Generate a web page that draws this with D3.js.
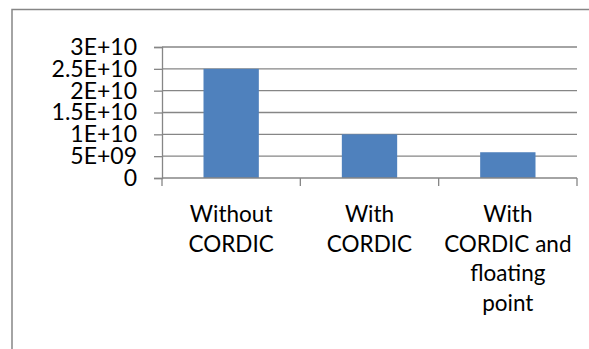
<!DOCTYPE html>
<html>
<head>
<meta charset="utf-8">
<script src="https://cdn.jsdelivr.net/npm/d3@7"></script>
<style>
  html, body { margin: 0; padding: 0; background: #fff; }
  svg { display: block; }
  text { font-family: Lato, "Open Sans", sans-serif; fill: #000; }
</style>
</head>
<body>
<svg id="chart" width="589" height="349"></svg>
<script>
// Runtime comparison of the three implementations
const categories = [
  ["Without", "CORDIC"],
  ["With", "CORDIC"],
  ["With", "CORDIC and", "floating", "point"]
];
const values = [2.5e10, 1.0e10, 5.9e9];
const yTicks = [0, 5e9, 1e10, 1.5e10, 2e10, 2.5e10, 3e10];
const yTickLabels = ["0", "5E+09", "1E+10", "1.5E+10", "2E+10", "2.5E+10", "3E+10"];

const svg = d3.select("#chart");
const W = 589, H = 349;
const plot = { left: 162, right: 577, top: 47, bottom: 178 };
const gridColor = "#868686";

// Outer chart frame
svg.append("rect")
  .attr("x", 12).attr("y", 9.5)
  .attr("width", W + 20).attr("height", H + 20)
  .attr("fill", "none")
  .attr("stroke", gridColor)
  .attr("stroke-width", 1.5);

const x = d3.scaleBand()
  .domain(d3.range(categories.length))
  .range([plot.left, plot.right])
  .paddingInner(0.6)
  .paddingOuter(0.3);

const y = d3.scaleLinear()
  .domain([0, 3e10])
  .range([plot.bottom, plot.top]);

// Horizontal gridlines
svg.append("g")
  .selectAll("line")
  .data(yTicks.filter(d => d > 0))
  .join("line")
  .attr("x1", plot.left).attr("x2", plot.right)
  .attr("y1", d => y(d)).attr("y2", d => y(d))
  .attr("stroke", gridColor)
  .attr("stroke-width", 1.3);

// Bars
svg.append("g")
  .selectAll("rect")
  .data(values)
  .join("rect")
  .attr("x", (d, i) => x(i))
  .attr("width", x.bandwidth())
  .attr("y", d => y(d))
  .attr("height", d => y(0) - y(d))
  .attr("fill", "#4F81BD");

// Y axis
const yAxis = d3.axisLeft(y)
  .tickValues(yTicks)
  .tickFormat((d, i) => yTickLabels[i])
  .tickSize(8)
  .tickPadding(17);

const gy = svg.append("g")
  .attr("transform", `translate(${plot.left},0)`)
  .call(yAxis);
gy.select(".domain").attr("stroke", gridColor).attr("stroke-width", 1.3);
gy.selectAll(".tick line").attr("stroke", gridColor).attr("stroke-width", 1.3);
gy.selectAll(".tick text")
  .attr("font-size", 23)
  .attr("font-family", "Lato, sans-serif")
  .attr("fill", "#000");

// X axis: baseline with tick marks at category boundaries
const boundaries = d3.range(categories.length + 1).map(i => plot.left + i * (plot.right - plot.left) / categories.length);
svg.append("line")
  .attr("x1", plot.left).attr("x2", plot.right)
  .attr("y1", y(0)).attr("y2", y(0))
  .attr("stroke", gridColor).attr("stroke-width", 1.3);
svg.append("g")
  .selectAll("line")
  .data(boundaries)
  .join("line")
  .attr("x1", d => d).attr("x2", d => d)
  .attr("y1", y(0)).attr("y2", y(0) + 8)
  .attr("stroke", gridColor).attr("stroke-width", 1.3);

// Category labels, wrapped onto several lines
const labels = svg.append("g")
  .selectAll("text")
  .data(categories)
  .join("text")
  .attr("text-anchor", "middle")
  .attr("font-size", 22.5)
  .attr("x", (d, i) => x(i) + x.bandwidth() / 2)
  .attr("y", 222);
labels.selectAll("tspan")
  .data(d => d)
  .join("tspan")
  .attr("x", function () { return d3.select(this.parentNode).attr("x"); })
  .attr("dy", (d, i) => i === 0 ? 0 : 29.5)
  .text(d => d);
</script>
</body>
</html>
